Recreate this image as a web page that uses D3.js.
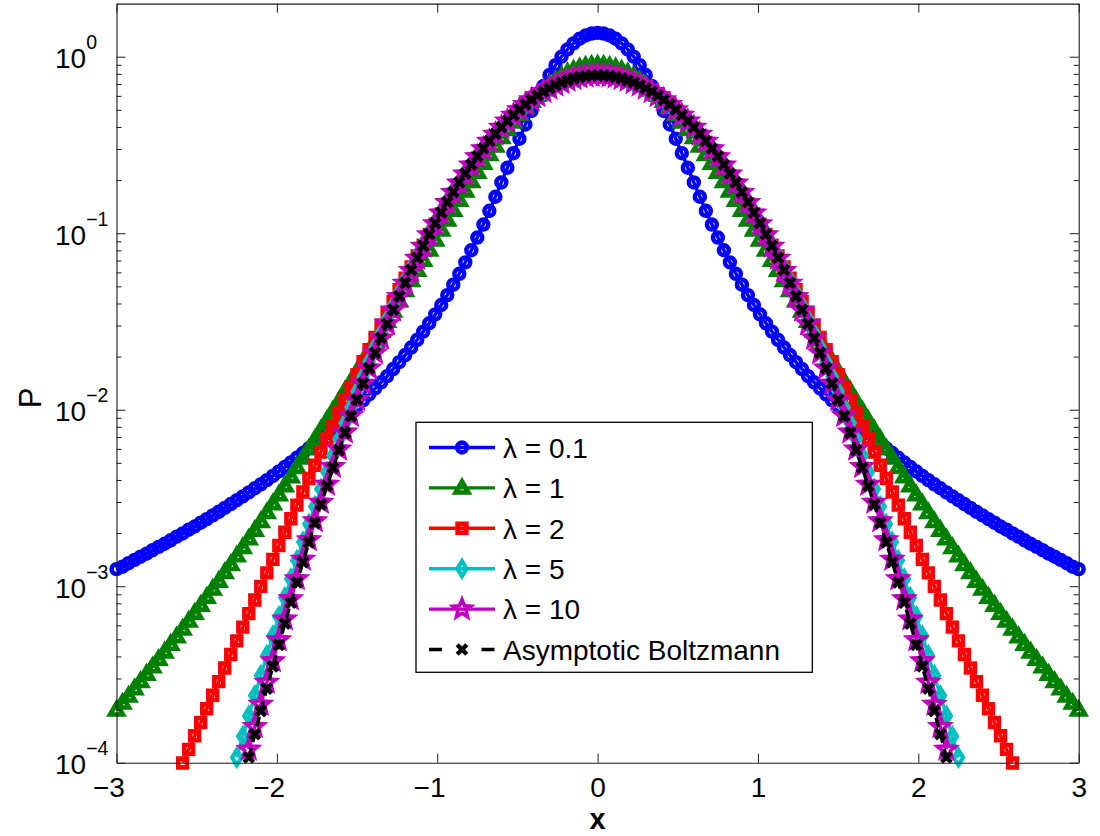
<!DOCTYPE html>
<html>
<head>
<meta charset="utf-8">
<script src="https://cdn.jsdelivr.net/npm/d3@7"></script>
<style>
  body { margin: 0; background: #fff; }
  svg text { font-family: "Liberation Sans", Arial, Helvetica, sans-serif; fill: #000; }
</style>
</head>
<body>
<svg id="chart" width="1100" height="836"></svg>
<script>
// Sampling grid in x (shared by every curve)
const xGrid = [
  -3, -2.9625, -2.925, -2.8875, -2.85, -2.8125, -2.775, -2.7375, -2.7, -2.6625,
  -2.625, -2.5875, -2.55, -2.5125, -2.475, -2.4375, -2.4, -2.3625, -2.325, -2.2875,
  -2.25, -2.2125, -2.175, -2.1375, -2.1, -2.0625, -2.025, -1.9875, -1.95, -1.9125,
  -1.875, -1.8375, -1.8, -1.7625, -1.725, -1.6875, -1.65, -1.6125, -1.575, -1.5375,
  -1.5, -1.4625, -1.425, -1.3875, -1.35, -1.3125, -1.275, -1.2375, -1.2, -1.1625,
  -1.125, -1.0875, -1.05, -1.0125, -0.975, -0.9375, -0.9, -0.8625, -0.825, -0.7875,
  -0.75, -0.7125, -0.675, -0.6375, -0.6, -0.5625, -0.525, -0.4875, -0.45, -0.4125,
  -0.375, -0.3375, -0.3, -0.2625, -0.225, -0.1875, -0.15, -0.1125, -0.075, -0.0375,
  0,
  0.0375, 0.075, 0.1125, 0.15, 0.1875, 0.225, 0.2625, 0.3, 0.3375, 0.375,
  0.4125, 0.45, 0.4875, 0.525, 0.5625, 0.6, 0.6375, 0.675, 0.7125, 0.75,
  0.7875, 0.825, 0.8625, 0.9, 0.9375, 0.975, 1.0125, 1.05, 1.0875, 1.125,
  1.1625, 1.2, 1.2375, 1.275, 1.3125, 1.35, 1.3875, 1.425, 1.4625, 1.5,
  1.5375, 1.575, 1.6125, 1.65, 1.6875, 1.725, 1.7625, 1.8, 1.8375, 1.875,
  1.9125, 1.95, 1.9875, 2.025, 2.0625, 2.1, 2.1375, 2.175, 2.2125, 2.25,
  2.2875, 2.325, 2.3625, 2.4, 2.4375, 2.475, 2.5125, 2.55, 2.5875, 2.625,
  2.6625, 2.7, 2.7375, 2.775, 2.8125, 2.85, 2.8875, 2.925, 2.9625, 3
];

// P(x) for lambda = 0.1, from x = -3
const pLambda01 = [
  0.00125, 0.00129, 0.00135, 0.00141, 0.00147, 0.00153, 0.00160, 0.00167, 0.00174, 0.00182,
  0.00191, 0.00199, 0.00209, 0.00218, 0.00229, 0.00240, 0.00252, 0.00264, 0.00278, 0.00292,
  0.00307, 0.00323, 0.00340, 0.00359, 0.00378, 0.00399, 0.00422, 0.00447, 0.00474, 0.00503,
  0.00534, 0.00568, 0.00605, 0.00645, 0.00688, 0.00735, 0.00786, 0.00842, 0.00903, 0.00971,
  0.0105, 0.0113, 0.0122, 0.0132, 0.0143, 0.0155, 0.0170, 0.0186, 0.0204, 0.0225,
  0.0249, 0.0277, 0.0309, 0.0347, 0.0392, 0.0446, 0.0511, 0.0589, 0.0684, 0.0801,
  0.0945, 0.112, 0.134, 0.161, 0.194, 0.235, 0.284, 0.343, 0.413, 0.493,
  0.584, 0.684, 0.788, 0.896, 1.002, 1.101, 1.190, 1.264, 1.319, 1.353,
  1.365,
  1.353, 1.319, 1.264, 1.190, 1.101, 1.002, 0.896, 0.788, 0.684, 0.584,
  0.493, 0.413, 0.343, 0.284, 0.235, 0.194, 0.161, 0.134, 0.112, 0.0945,
  0.0801, 0.0684, 0.0589, 0.0511, 0.0446, 0.0392, 0.0347, 0.0309, 0.0277, 0.0249,
  0.0225, 0.0204, 0.0186, 0.0170, 0.0155, 0.0143, 0.0132, 0.0122, 0.0113, 0.0105,
  0.00971, 0.00903, 0.00842, 0.00786, 0.00735, 0.00688, 0.00645, 0.00605, 0.00568, 0.00534,
  0.00503, 0.00474, 0.00447, 0.00422, 0.00399, 0.00378, 0.00359, 0.00340, 0.00323, 0.00307,
  0.00292, 0.00278, 0.00264, 0.00252, 0.00240, 0.00229, 0.00218, 0.00209, 0.00199, 0.00191,
  0.00182, 0.00174, 0.00167, 0.00160, 0.00153, 0.00147, 0.00141, 0.00135, 0.00129, 0.00125
];

// P(x) for lambda = 1, from x = -3
const pLambda1 = [
  0.000199, 0.000218, 0.000239, 0.000263, 0.000289, 0.000318, 0.000350, 0.000386, 0.000425, 0.000470,
  0.000519, 0.000574, 0.000636, 0.000705, 0.000782, 0.000868, 0.000965, 0.00107, 0.00120, 0.00133,
  0.00149, 0.00166, 0.00186, 0.00208, 0.00233, 0.00262, 0.00294, 0.00330, 0.00372, 0.00418,
  0.00472, 0.00533, 0.00602, 0.00681, 0.00771, 0.00873, 0.00990, 0.0112, 0.0128, 0.0145,
  0.0165, 0.0188, 0.0215, 0.0245, 0.0279, 0.0318, 0.0363, 0.0415, 0.0474, 0.0541,
  0.0618, 0.0705, 0.0805, 0.0918, 0.1045, 0.119, 0.135, 0.154, 0.174, 0.197,
  0.222, 0.250, 0.280, 0.313, 0.349, 0.388, 0.428, 0.471, 0.516, 0.561,
  0.607, 0.652, 0.697, 0.739, 0.779, 0.814, 0.844, 0.869, 0.887, 0.898,
  0.902,
  0.898, 0.887, 0.869, 0.844, 0.814, 0.779, 0.739, 0.697, 0.652, 0.607,
  0.561, 0.516, 0.471, 0.428, 0.388, 0.349, 0.313, 0.280, 0.250, 0.222,
  0.197, 0.174, 0.154, 0.135, 0.119, 0.1045, 0.0918, 0.0805, 0.0705, 0.0618,
  0.0541, 0.0474, 0.0415, 0.0363, 0.0318, 0.0279, 0.0245, 0.0215, 0.0188, 0.0165,
  0.0145, 0.0128, 0.0112, 0.00990, 0.00873, 0.00771, 0.00681, 0.00602, 0.00533, 0.00472,
  0.00418, 0.00372, 0.00330, 0.00294, 0.00262, 0.00233, 0.00208, 0.00186, 0.00166, 0.00149,
  0.00133, 0.00120, 0.00107, 0.000965, 0.000868, 0.000782, 0.000705, 0.000636, 0.000574, 0.000519,
  0.000470, 0.000425, 0.000386, 0.000350, 0.000318, 0.000289, 0.000263, 0.000239, 0.000218, 0.000199
];

// P(x) for lambda = 2, from x = -2.5875
const pLambda2 = [
  0.0000996, 0.000119, 0.000142, 0.000169, 0.000202, 0.000241, 0.000288, 0.000344, 0.000410, 0.000490,
  0.000586, 0.000699, 0.000836, 0.000998, 0.00119, 0.00142, 0.00170, 0.00202, 0.00241, 0.00288,
  0.00342, 0.00408, 0.00485, 0.00576, 0.00684, 0.00811, 0.00960, 0.0114, 0.0134, 0.0158,
  0.0187, 0.0219, 0.0257, 0.0302, 0.0353, 0.0411, 0.0479, 0.0556, 0.0644, 0.0744,
  0.0856, 0.0983, 0.1126, 0.1284, 0.1461, 0.1655, 0.187, 0.210, 0.235, 0.263,
  0.292, 0.323, 0.355, 0.389, 0.424, 0.460, 0.497, 0.534, 0.570, 0.606,
  0.640, 0.673, 0.703, 0.730, 0.754, 0.775, 0.791, 0.803, 0.810,
  0.813,
  0.810, 0.803, 0.791, 0.775, 0.754, 0.730, 0.703, 0.673, 0.640,
  0.606, 0.570, 0.534, 0.497, 0.460, 0.424, 0.389, 0.355, 0.323, 0.292,
  0.263, 0.235, 0.210, 0.187, 0.1655, 0.1461, 0.1284, 0.1126, 0.0983, 0.0856,
  0.0744, 0.0644, 0.0556, 0.0479, 0.0411, 0.0353, 0.0302, 0.0257, 0.0219, 0.0187,
  0.0158, 0.0134, 0.0114, 0.00960, 0.00811, 0.00684, 0.00576, 0.00485, 0.00408, 0.00342,
  0.00288, 0.00241, 0.00202, 0.00170, 0.00142, 0.00119, 0.000998, 0.000836, 0.000699, 0.000586,
  0.000490, 0.000410, 0.000344, 0.000288, 0.000241, 0.000202, 0.000169, 0.000142, 0.000119, 0.0000996
];

// P(x) for lambda = 5, from x = -2.25
const pLambda5 = [
  0.000107, 0.000141, 0.000184, 0.000240, 0.000312, 0.000405, 0.000523, 0.000673, 0.000863, 0.00110,
  0.00140, 0.00178, 0.00225, 0.00283, 0.00355, 0.00443, 0.00551, 0.00683, 0.00842, 0.0103,
  0.0127, 0.0154, 0.0187, 0.0226, 0.0271, 0.0325, 0.0387, 0.0459, 0.0542, 0.0637,
  0.0745, 0.0867, 0.1005, 0.116, 0.133, 0.152, 0.173, 0.195, 0.220, 0.246,
  0.274, 0.304, 0.335, 0.367, 0.401, 0.435, 0.470, 0.505, 0.540, 0.574,
  0.608, 0.639, 0.669, 0.696, 0.721, 0.743, 0.761, 0.775, 0.786, 0.792,
  0.794,
  0.792, 0.786, 0.775, 0.761, 0.743, 0.721, 0.696, 0.669, 0.639, 0.608,
  0.574, 0.540, 0.505, 0.470, 0.435, 0.401, 0.367, 0.335, 0.304, 0.274,
  0.246, 0.220, 0.195, 0.173, 0.152, 0.133, 0.116, 0.1005, 0.0867, 0.0745,
  0.0637, 0.0542, 0.0459, 0.0387, 0.0325, 0.0271, 0.0226, 0.0187, 0.0154, 0.0127,
  0.0103, 0.00842, 0.00683, 0.00551, 0.00443, 0.00355, 0.00283, 0.00225, 0.00178, 0.00140,
  0.00110, 0.000863, 0.000673, 0.000523, 0.000405, 0.000312, 0.000240, 0.000184, 0.000141, 0.000107
];

// P(x) for lambda = 10, from x = -2.175
const pLambda10 = [
  0.000119, 0.000160, 0.000214, 0.000285, 0.000377, 0.000496, 0.000651, 0.000848,
  0.00110, 0.00142, 0.00183, 0.00234, 0.00298, 0.00377, 0.00476, 0.00597, 0.00745, 0.00925,
  0.0114, 0.0141, 0.0172, 0.0210, 0.0254, 0.0306, 0.0367, 0.0437, 0.0519, 0.0613,
  0.0720, 0.0841, 0.0978, 0.113, 0.130, 0.149, 0.170, 0.192, 0.216, 0.243,
  0.271, 0.300, 0.331, 0.363, 0.397, 0.431, 0.465, 0.500, 0.535, 0.569,
  0.601, 0.633, 0.662, 0.689, 0.713, 0.735, 0.752, 0.767, 0.777, 0.783,
  0.785,
  0.783, 0.777, 0.767, 0.752, 0.735, 0.713, 0.689, 0.662, 0.633, 0.601,
  0.569, 0.535, 0.500, 0.465, 0.431, 0.397, 0.363, 0.331, 0.300, 0.271,
  0.243, 0.216, 0.192, 0.170, 0.149, 0.130, 0.113, 0.0978, 0.0841, 0.0720,
  0.0613, 0.0519, 0.0437, 0.0367, 0.0306, 0.0254, 0.0210, 0.0172, 0.0141, 0.0114,
  0.00925, 0.00745, 0.00597, 0.00476, 0.00377, 0.00298, 0.00234, 0.00183, 0.00142, 0.00110,
  0.000848, 0.000651, 0.000496, 0.000377, 0.000285, 0.000214, 0.000160, 0.000119
];

// Asymptotic Boltzmann distribution, from x = -2.175
const pBoltzmann = [
  0.000107, 0.000145, 0.000196, 0.000263, 0.000351, 0.000465, 0.000614, 0.000807,
  0.00105, 0.00137, 0.00177, 0.00228, 0.00291, 0.00370, 0.00469, 0.00590, 0.00739, 0.00920,
  0.0114, 0.0141, 0.0172, 0.0210, 0.0255, 0.0307, 0.0369, 0.0440, 0.0523, 0.0618,
  0.0726, 0.0849, 0.0987, 0.114, 0.131, 0.150, 0.171, 0.194, 0.218, 0.245,
  0.273, 0.302, 0.333, 0.366, 0.399, 0.433, 0.467, 0.502, 0.537, 0.570,
  0.603, 0.634, 0.663, 0.690, 0.714, 0.735, 0.753, 0.767, 0.777, 0.783,
  0.785,
  0.783, 0.777, 0.767, 0.753, 0.735, 0.714, 0.690, 0.663, 0.634, 0.603,
  0.570, 0.537, 0.502, 0.467, 0.433, 0.399, 0.366, 0.333, 0.302, 0.273,
  0.245, 0.218, 0.194, 0.171, 0.150, 0.131, 0.114, 0.0987, 0.0849, 0.0726,
  0.0618, 0.0523, 0.0440, 0.0369, 0.0307, 0.0255, 0.0210, 0.0172, 0.0141, 0.0114,
  0.00920, 0.00739, 0.00590, 0.00469, 0.00370, 0.00291, 0.00228, 0.00177, 0.00137, 0.00105,
  0.000807, 0.000614, 0.000465, 0.000351, 0.000263, 0.000196, 0.000145, 0.000107
];

const seriesLabels = ["\u03bb = 0.1", "\u03bb = 1", "\u03bb = 2", "\u03bb = 5", "\u03bb = 10", "Asymptotic Boltzmann"];
const seriesStartX = [-3, -3, -2.5875, -2.25, -2.175, -2.175];
const seriesValues = [pLambda01, pLambda1, pLambda2, pLambda5, pLambda10, pBoltzmann];

const xTicks = [-3, -2, -1, 0, 1, 2, 3];
const yDecades = [-4, -3, -2, -1, 0];

// ---- styling ----
const colors = ["#0000ff", "#008000", "#ff0000", "#00bfbf", "#bf00bf", "#000000"];
const markers = ["circle", "triangle", "square", "diamond", "star", "cross"];
const dashes = [null, null, null, null, null, "10,6"];

const plot = { left: 116.5, right: 1078.7, top: 3.6, bottom: 762.7 };

const svg = d3.select("#chart");
const x = d3.scaleLinear().domain([-3, 3]).range([plot.left, plot.right]);
const y = d3.scaleLog().domain([1e-4, 2]).range([plot.bottom, plot.top]);

svg.append("defs").append("clipPath").attr("id", "plotClip")
  .append("rect")
  .attr("x", plot.left).attr("y", plot.top)
  .attr("width", plot.right - plot.left).attr("height", plot.bottom - plot.top);

// marker shapes centred on (0,0)
function markerPath(kind) {
  switch (kind) {
    case "circle": { const p = d3.path(); p.arc(0, 0, 4.9, 0, 2 * Math.PI); p.closePath(); return p.toString(); }
    case "triangle": return "M0,-6.6L6.4,4.6L-6.4,4.6Z";
    case "square": return "M-4.4,-4.4L4.4,-4.4L4.4,4.4L-4.4,4.4Z";
    case "diamond": return "M0,-7.6L4.6,0L0,7.6L-4.6,0Z";
    case "star": {
      const pts = [];
      for (let i = 0; i < 10; i++) {
        const r = i % 2 === 0 ? 9.5 : 4.2;
        const a = -Math.PI / 2 + i * Math.PI / 5;
        pts.push([r * Math.cos(a), r * Math.sin(a)]);
      }
      return "M" + pts.map(p => p[0].toFixed(2) + "," + p[1].toFixed(2)).join("L") + "Z";
    }
    case "cross": return "M-4.8,-4.8L4.8,4.8M4.8,-4.8L-4.8,4.8";
  }
}
const markerStroke = { circle: 4.6, triangle: 4.6, square: 4.6, diamond: 4.2, star: 3.6, cross: 4.4 };

// ---- axes ----
const axisColor = "#1a1a1a";
function styleAxis(g) {
  g.selectAll("path.domain").attr("stroke", axisColor).attr("stroke-width", 1.1);
  g.selectAll(".tick line").attr("stroke", axisColor).attr("stroke-width", 1);
}

const majorY = yDecades.map(e => Math.pow(10, e));
const minorY = [];
yDecades.forEach(e => { for (let m = 2; m <= 9; m++) { const v = m * Math.pow(10, e); if (v < 2) minorY.push(v); } });

const dataLayer = svg.append("g");
const axesLayer = svg.append("g");

const gBottom = axesLayer.append("g").attr("transform", `translate(0,${plot.bottom})`)
  .call(d3.axisBottom(x).tickValues(xTicks).tickSizeInner(-9).tickSizeOuter(0)
    .tickFormat(d => d < 0 ? "\u2212" + Math.abs(d) : String(d)));
styleAxis(gBottom);
gBottom.selectAll(".tick text")
  .attr("font-size", 28).attr("font-family", null)
  .attr("text-anchor", "end").attr("x", 7.8).attr("y", 34.5).attr("dy", null)
  .attr("fill", "#000");

const gTop = axesLayer.append("g").attr("transform", `translate(0,${plot.top})`)
  .call(d3.axisTop(x).tickValues(xTicks).tickSizeInner(-9).tickSizeOuter(0).tickFormat(""));
styleAxis(gTop);

const gLeft = axesLayer.append("g").attr("transform", `translate(${plot.left},0)`)
  .call(d3.axisLeft(y).tickValues(majorY).tickSizeInner(-9).tickSizeOuter(0).tickFormat(""));
styleAxis(gLeft);
const gLeftMinor = axesLayer.append("g").attr("transform", `translate(${plot.left},0)`)
  .call(d3.axisLeft(y).tickValues(minorY).tickSizeInner(-5).tickSizeOuter(0).tickFormat(""));
styleAxis(gLeftMinor);
gLeftMinor.select("path.domain").remove();

const gRight = axesLayer.append("g").attr("transform", `translate(${plot.right},0)`)
  .call(d3.axisRight(y).tickValues(majorY).tickSizeInner(-9).tickSizeOuter(0).tickFormat(""));
styleAxis(gRight);
const gRightMinor = axesLayer.append("g").attr("transform", `translate(${plot.right},0)`)
  .call(d3.axisRight(y).tickValues(minorY).tickSizeInner(-5).tickSizeOuter(0).tickFormat(""));
styleAxis(gRightMinor);
gRightMinor.select("path.domain").remove();

// y tick labels 10^n
const yLab = axesLayer.append("g").selectAll("text").data(yDecades).join("text")
  .attr("x", 55).attr("y", e => y(Math.pow(10, e)) + 11.6)
  .attr("font-size", 28);
yLab.append("tspan").text("10");
yLab.append("tspan").attr("font-size", 19.5).attr("dy", -19)
  .text(e => e < 0 ? "\u2212" + Math.abs(e) : String(e));

// axis titles
axesLayer.append("text").attr("transform", "translate(41,398) rotate(-90)")
  .attr("text-anchor", "middle").attr("font-size", 31).text("P");
axesLayer.append("text").attr("x", x(0)).attr("y", 829)
  .attr("text-anchor", "middle").attr("font-size", 29).attr("font-weight", "bold").text("x");

// ---- curves ----
const line = d3.line().x(d => x(d[0])).y(d => y(d[1]));

seriesValues.forEach((vals, i) => {
  const start = xGrid.findIndex(v => Math.abs(v - seriesStartX[i]) < 1e-9);
  const pts = vals.map((p, j) => [xGrid[start + j], p]);
  const g = dataLayer.append("g");
  g.append("path").datum(pts)
    .attr("clip-path", "url(#plotClip)")
    .attr("d", line)
    .attr("fill", "none")
    .attr("stroke", colors[i])
    .attr("stroke-width", 3.4)
    .attr("stroke-linejoin", "round")
    .attr("stroke-dasharray", dashes[i]);
  g.selectAll("path.mk").data(pts.filter(d => d[1] >= 0.97e-4)).join("path")
    .attr("class", "mk")
    .attr("transform", d => `translate(${x(d[0])},${y(d[1])})`)
    .attr("d", markerPath(markers[i]))
    .attr("fill", "none")
    .attr("stroke", colors[i])
    .attr("stroke-width", markerStroke[markers[i]])
    .attr("stroke-linejoin", "miter")
    .attr("stroke-miterlimit", 10);
});

// ---- legend ----
const leg = { x0: 416, y0: 422.3, x1: 812.3, y1: 672.3, rowY: 447.5, rowStep: 40.4 };
const legend = svg.append("g");
legend.append("rect")
  .attr("x", leg.x0).attr("y", leg.y0)
  .attr("width", leg.x1 - leg.x0).attr("height", leg.y1 - leg.y0)
  .attr("fill", "#fff").attr("stroke", "#000").attr("stroke-width", 1.3);

seriesLabels.forEach((lab, i) => {
  const cy = leg.rowY + i * leg.rowStep;
  const row = legend.append("g");
  row.append("line")
    .attr("x1", 429).attr("x2", 495).attr("y1", cy).attr("y2", cy)
    .attr("stroke", colors[i]).attr("stroke-width", 3.4)
    .attr("stroke-dasharray", dashes[i] ? "13,39.5,13" : null);
  row.append("path")
    .attr("transform", `translate(462,${cy})`)
    .attr("d", markerPath(markers[i]))
    .attr("fill", "none").attr("stroke", colors[i])
    .attr("stroke-width", markerStroke[markers[i]])
    .attr("stroke-miterlimit", 10);
  row.append("text").attr("x", 503).attr("y", cy + 10.2)
    .attr("font-size", 28).text(lab);
});
</script>
</body>
</html>
